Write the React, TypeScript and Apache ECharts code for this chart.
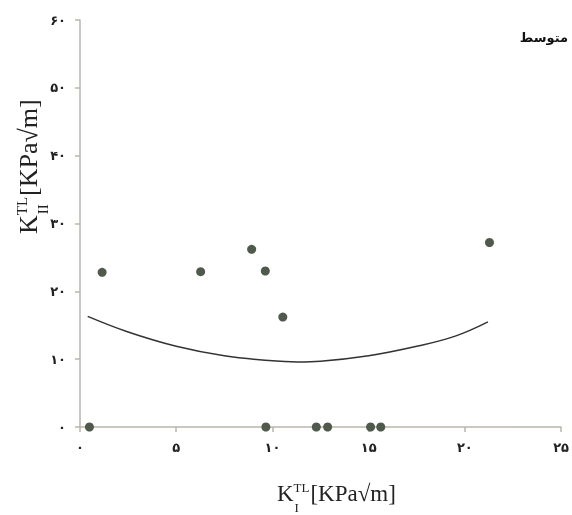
import React, { useEffect, useRef } from "react";
import * as echarts from "echarts";

// Scatter observations
const pointX = [1.15, 6.27, 8.92, 9.63, 10.54, 0.49, 9.66, 12.28, 12.87, 15.1, 15.63, 21.28];
const pointY = [22.8, 22.9, 26.2, 23.0, 16.2, 0, 0, 0, 0, 0, 0, 27.2];

// Trend curve
const curveX = [0.4, 2.5, 5, 7.5, 10, 11.3, 12.5, 15, 17.5, 19.5, 21.2];
const curveY = [16.3, 14.0, 11.9, 10.5, 9.75, 9.6, 9.7, 10.5, 11.9, 13.4, 15.5];

// Axis ticks
const xTicks = [0, 5, 10, 15, 20, 25];
const yTicks = [0, 10, 20, 30, 40, 50, 60];
const persianDigits = ["۰", "۱", "۲", "۳", "۴", "۵", "۶", "۷", "۸", "۹"];
const titleText = "متوسط";

const toPersian = (n: number) =>
  String(n)
    .split("")
    .map((c) => (c >= "0" && c <= "9" ? persianDigits[Number(c)] : c))
    .join("");

const SERIF = "'Liberation Serif', 'Times New Roman', serif";

function axisName(sub: string, x: number, y: number, rotation: number, size: number) {
  const small = Math.round(size * 0.58);
  const kw = size * 0.72;
  const tlw = small * 1.22;
  return {
    type: "group",
    x,
    y,
    rotation,
    children: [
      { type: "text", x: 0, y: 0, style: { text: "K", font: `${size}px ${SERIF}`, fill: "#222", textVerticalAlign: "bottom" } },
      { type: "text", x: kw, y: -size * 0.46, style: { text: "TL", font: `${small}px ${SERIF}`, fill: "#222", textVerticalAlign: "bottom" } },
      { type: "text", x: kw + 1, y: size * 0.38, style: { text: sub, font: `${small}px ${SERIF}`, fill: "#222", textVerticalAlign: "bottom" } },
      { type: "text", x: kw + tlw + 1, y: 0, style: { text: "[KPa√m]", font: `${size}px ${SERIF}`, fill: "#222", textVerticalAlign: "bottom" } },
    ],
  };
}

export default function App() {
  const ref = useRef<HTMLDivElement>(null);
  useEffect(() => {
    if (!ref.current) return;
    const chart = echarts.init(ref.current, null, { renderer: "svg" });
    const axisColor = "#bab4ac";
    const labelStyle = { color: "#222", fontSize: 13, fontWeight: "bold" as const, fontFamily: "'DejaVu Sans', sans-serif" };
    chart.setOption({
      animation: false,
      title: {
        text: titleText,
        right: 4,
        top: 31,
        padding: 0,
        textStyle: { fontSize: 13, fontWeight: "bold", color: "#111", fontFamily: "'DejaVu Sans', sans-serif" },
      },
      grid: { left: 80, right: 9, top: 20, bottom: 88, containLabel: false },
      xAxis: {
        type: "value",
        min: xTicks[0],
        max: xTicks[xTicks.length - 1],
        interval: 5,
        axisLine: { show: true, lineStyle: { color: axisColor, width: 1.5 } },
        axisTick: { show: true, length: 5, lineStyle: { color: axisColor, width: 1.5 } },
        splitLine: { show: false },
        axisLabel: { ...labelStyle, margin: 14, formatter: (v: number) => toPersian(v) },
      },
      yAxis: {
        type: "value",
        min: yTicks[0],
        max: yTicks[yTicks.length - 1],
        interval: 10,
        axisLine: { show: true, lineStyle: { color: axisColor, width: 1.5 } },
        axisTick: { show: true, length: 5, lineStyle: { color: axisColor, width: 1.5 } },
        splitLine: { show: false },
        axisLabel: { ...labelStyle, margin: 14, formatter: (v: number) => toPersian(v) },
      },
      graphic: [axisName("I", 277, 505, 0, 23), axisName("II", 41, 234, Math.PI / 2, 26)],
      series: [
        {
          type: "line",
          data: curveX.map((x, i) => [x, curveY[i]]),
          smooth: 0.4,
          showSymbol: false,
          symbol: "none",
          lineStyle: { color: "#333", width: 1.5 },
          z: 2,
        },
        {
          type: "scatter",
          data: pointX.map((x, i) => [x, pointY[i]]),
          symbolSize: 9,
          itemStyle: { color: "#4f5a4c", opacity: 1 },
          clip: false,
          z: 3,
        },
      ],
    });
    return () => chart.dispose();
  }, []);
  return <div ref={ref} style={{ position: "fixed", left: 0, top: 0, width: 572, height: 515 }} />;
}
